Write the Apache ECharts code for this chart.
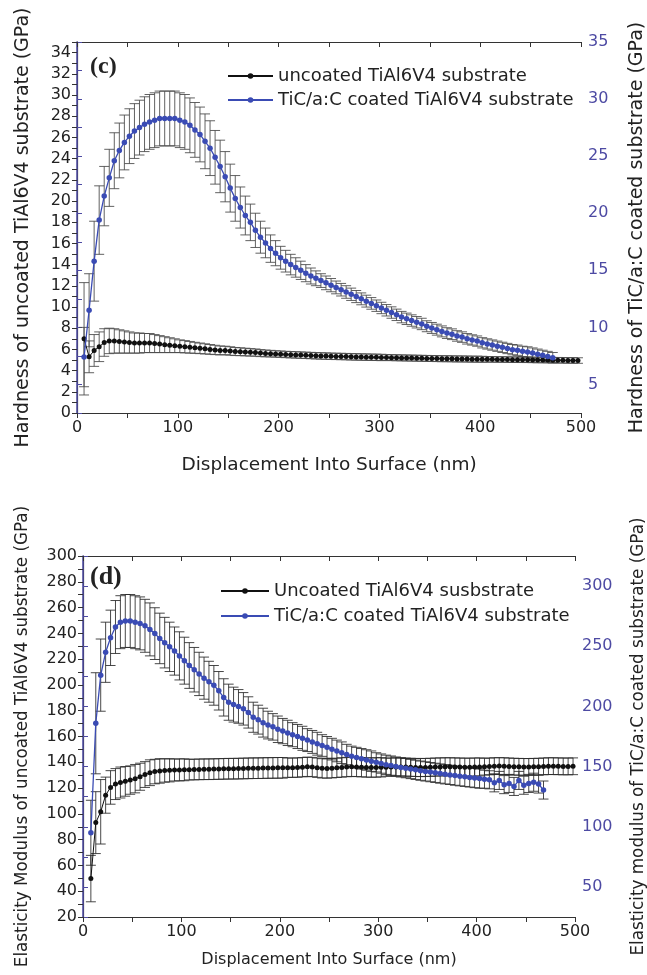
<!DOCTYPE html>
<html>
<head>
<meta charset="utf-8">
<script src="https://cdn.jsdelivr.net/npm/echarts@6/dist/echarts.min.js"></script>
<style>html,body{margin:0;padding:0;background:#fff;}#c{width:647px;height:975px;}</style>
</head>
<body>
<div id="c"></div>
<script>
// ---------- (c) Hardness ----------
var topDepth = [7,12,17,22,27,32,37,42,47,52,57,62,67,72,77,82,87,92,97,102,107,112,117,122,127,132,137,142,147,152,157,162,167,172,177,182,187,192,197,202,207,212,217,222,227,232,237,242,247,252,257,262,267,272,277,282,287,292,297,302,307,312,317,322,327,332,337,342,347,352,357,362,367,372,377,382,387,392,397,402,407,412,417,422,427,432,437,442,447,452,457,462,467,472,477,482,487,492,497];
var topUncoated = [7.0,5.3,5.9,6.25,6.65,6.8,6.8,6.75,6.7,6.65,
  6.6,6.6,6.6,6.6,6.55,6.5,6.45,6.4,6.35,6.3,
  6.25,6.2,6.15,6.1,6.05,6.0,5.95,5.9,5.9,5.85,
  5.8,5.78,5.75,5.72,5.7,5.65,5.62,5.6,5.57,5.55,
  5.52,5.5,5.48,5.46,5.44,5.42,5.4,5.38,5.37,5.35,
  5.34,5.33,5.32,5.3,5.29,5.28,5.27,5.26,5.25,5.24,
  5.23,5.22,5.21,5.2,5.19,5.18,5.17,5.16,5.15,5.14,
  5.13,5.12,5.12,5.11,5.1,5.1,5.09,5.08,5.08,5.07,
  5.06,5.06,5.05,5.05,5.04,5.03,5.03,5.02,5.02,5.01,
  5.0,5.0,4.99,4.98,4.98,4.97,4.96,4.96,4.95];
var topUncoatedErr = [5.3,1.5,1.5,1.4,1.3,1.2,1.15,1.1,1.05,1.0,
  0.95,0.95,0.9,0.9,0.85,0.8,0.75,0.7,0.65,0.6,
  0.58,0.55,0.52,0.5,0.48,0.46,0.44,0.42,0.4,0.4,
  0.38,0.37,0.36,0.35,0.34,0.33,0.32,0.31,0.3,0.3,
  0.3,0.3,0.3,0.3,0.3,0.3,0.3,0.3,0.3,0.3,
  0.3,0.3,0.3,0.3,0.3,0.3,0.3,0.3,0.3,0.3,
  0.28,0.28,0.28,0.28,0.28,0.28,0.28,0.28,0.28,0.28,
  0.28,0.28,0.28,0.28,0.28,0.28,0.28,0.28,0.28,0.28,
  0.26,0.26,0.26,0.26,0.26,0.26,0.26,0.26,0.26,0.26,
  0.26,0.26,0.26,0.26,0.26,0.26,0.26,0.26,0.26];
var topCoated = [7.4,11.5,15.8,19.4,21.5,23.1,24.6,25.5,26.2,26.75,
  27.2,27.5,27.8,28.0,28.15,28.3,28.3,28.3,28.3,28.15,
  28.0,27.7,27.3,26.9,26.3,25.7,24.9,24.1,23.2,22.2,
  21.3,20.5,19.8,19.2,18.5,17.9,17.4,16.9,16.5,16.1,
  15.8,15.5,15.25,15.0,14.75,14.5,14.3,14.1,13.9,13.7,
  13.5,13.3,13.1,12.9,12.7,12.5,12.3,12.1,11.9,11.7,
  11.5,11.3,11.1,10.9,10.75,10.6,10.45,10.3,10.1,9.95,
  9.8,9.65,9.5,9.4,9.25,9.15,9.0,8.9,8.8,8.65,
  8.55,8.45,8.35,8.25,8.15,8.05,8.0,7.9,7.85,7.75,
  7.65,7.55,7.45,7.35];
var topCoatedErr = [2.6,3.2,3.5,3.0,2.6,2.5,2.45,2.4,2.4,2.4,
  2.4,2.4,2.4,2.4,2.4,2.4,2.4,2.4,2.4,2.4,
  2.4,2.4,2.4,2.4,2.4,2.4,2.35,2.3,2.2,2.1,
  2.0,1.8,1.7,1.6,1.5,1.4,1.3,1.2,1.1,1.0,
  0.95,0.9,0.85,0.8,0.75,0.7,0.65,0.6,0.6,0.58,
  0.56,0.55,0.55,0.54,0.53,0.52,0.52,0.51,0.5,0.5,
  0.5,0.5,0.5,0.5,0.5,0.5,0.5,0.5,0.48,0.48,
  0.48,0.48,0.47,0.47,0.46,0.46,0.46,0.45,0.45,0.45,
  0.45,0.45,0.45,0.45,0.45,0.45,0.45,0.45,0.45,0.45,
  0.45,0.45,0.45,0.45];

// ---------- (d) Elasticity modulus ----------
var botDepth = [8,13,18,23,28,33,38,43,48,53,58,63,68,73,78,83,88,93,98,103,108,113,118,123,128,133,138,143,148,153,158,163,168,173,178,183,188,193,198,203,208,213,218,223,228,233,238,243,248,253,258,263,268,273,278,283,288,293,298,303,308,313,318,323,328,333,338,343,348,353,358,363,368,373,378,383,388,393,398,403,408,413,418,423,428,433,438,443,448,453,458,463,468,473,478,483,488,493,498];
var botUncoated = [49.8,93.2,101.6,114.5,120.5,123.1,124.3,125.2,126.2,127.3,
  128.8,130.5,131.9,132.8,133.3,133.6,133.8,134.0,134.1,134.2,
  134.3,134.4,134.5,134.6,134.6,134.7,134.8,134.9,135.0,135.0,
  135.1,135.2,135.3,135.4,135.4,135.5,135.6,135.6,135.7,135.7,
  135.8,135.8,135.9,136.2,136.5,136.3,135.8,135.3,135.2,135.4,
  135.7,136.0,136.3,136.5,136.4,136.2,136.0,135.9,136.0,136.1,
  136.2,136.3,136.4,136.4,136.3,136.1,136.0,135.9,136.0,136.1,
  136.3,136.4,136.5,136.5,136.4,136.3,136.2,136.2,136.3,136.4,
  136.6,136.8,137.0,137.1,137.0,136.8,136.6,136.5,136.4,136.4,
  136.5,136.6,136.8,137.0,137.0,136.9,136.8,136.8,136.9];
var botUncoatedErr = [18,24,25,14,13,12,12,11.5,11,11,
  10.5,10,10,9.5,9.5,9,9,8.5,8.5,8.5,
  8,8,8,8,8,8,8,8,8,8,
  8,8,8,8,8,8,8,8,8,8,
  7.5,7.5,7.5,7.5,7.5,7.5,7.5,7.5,7.5,7.5,
  7.5,7.5,7.5,7.5,7.5,7.5,7.5,7.5,7.5,7.5,
  7,7,7,7,7,7,7,7,7,7,
  7,7,7,7,7,7,7,7,7,7,
  6.5,6.5,6.5,6.5,6.5,6.5,6.5,6.5,6.5,6.5,
  6.5,6.5,6.5,6.5,6.5,6.5,6.5,6.5,6.5];
var botCoated = [95,186,226,245,257,266,270,271,271,270,
  269,267,264,260.5,256.5,253,249.5,246,242,238,
  234,230.5,227,223.5,220.5,217.5,213,207.5,203.5,201.5,
  200,198,195,191,189,186.5,184.5,183,181,179.5,
  178,176.5,175,173.5,172,170.5,169,167.5,166,164.5,
  163,161.5,160,158.5,157.5,156.5,155.5,154.5,153.5,152.5,
  151.5,150.8,150,149.3,148.7,148,147.3,146.6,146,145.4,
  144.8,144.2,143.6,143.1,142.5,142,141.5,141,140.5,140,
  139.5,139,136.5,138.5,135,136,133.5,138.5,134.5,136,
  137,135.5,130.5];
var botCoatedErr = [27,42,30,25,23,22,22,22,22,22,
  22,22,22,21.5,21,21,20.5,20,20,19.5,
  19,18.5,18,17.5,17,16.5,16,15.5,15,14.5,
  14,13.5,13,12.5,12,12,11.5,11,11,10.5,
  10.5,10,10,10,9.5,9.5,9.5,9,9,9,
  9,9,8.5,8.5,8.5,8.5,8.5,8.5,8,8,
  8,8,8,8,8,8,8,8,8,8,
  8,8,8,8,8,8,8,8,8,8,
  7.5,7.5,7.5,7.5,7.5,7.5,7.5,7.5,7.5,7.5,
  7.5,7.5,7.5];

// tick label values
var xLabelStep = 100;
var topLeftLabelStep = 2;
var topRightLabelStep = 5;
var botLeftLabelStep = 20;
var botRightLabelStep = 50;

var namesTop = ['uncoated TiAl6V4 substrate', 'TiC/a:C coated TiAl6V4 substrate'];
var namesBot = ['Uncoated TiAl6V4 susbstrate', 'TiC/a:C coated TiAl6V4 substrate'];

var FONT = 'DejaVu Sans';
var BLUE = '#3a4bb4';
var PURPLE = '#4d4aa3';
var AXIS = '#333';

function stepFmt(step) {
  return function (v) {
    var r = v / step;
    return Math.abs(r - Math.round(r)) < 1e-6 ? String(Math.round(v * 100) / 100) : '';
  };
}
function pts(xs, ys) { return ys.map(function (v, i) { return [xs[i], v]; }); }
function errs(xs, ys, es) { return ys.map(function (v, i) { return [xs[i], v, es[i]]; }); }

function errSeries(xi, yi, data, color) {
  return {
    type: 'custom', xAxisIndex: xi, yAxisIndex: yi, z: 1, silent: true,
    encode: { x: 0, y: 1 },
    data: data,
    renderItem: function (params, api) {
      var x = api.value(0), y = api.value(1), e = api.value(2);
      var t = api.coord([x, y + e]), b = api.coord([x, y - e]);
      var w = 5;
      var st = { stroke: color, lineWidth: 1 };
      return { type: 'group', children: [
        { type: 'line', shape: { x1: t[0], y1: t[1], x2: b[0], y2: b[1] }, style: st },
        { type: 'line', shape: { x1: t[0] - w, y1: t[1], x2: t[0] + w, y2: t[1] }, style: st },
        { type: 'line', shape: { x1: b[0] - w, y1: b[1], x2: b[0] + w, y2: b[1] }, style: st }
      ]};
    }
  };
}

function xBottom(grid, gap, fs) {
  return {
    gridIndex: grid, type: 'value', position: 'bottom', min: 0, max: 500, interval: 50,
    axisLine: { show: true, lineStyle: { color: AXIS, width: 1.2 } },
    axisTick: { show: true, inside: false, length: 5, lineStyle: { color: AXIS } },
    axisLabel: { formatter: stepFmt(xLabelStep), fontSize: 16, color: '#222', fontFamily: FONT, margin: 7 },
    splitLine: { show: false },
    name: 'Displacement Into Surface (nm)', nameLocation: 'middle', nameGap: gap,
    nameTextStyle: { fontSize: fs, color: '#222', fontFamily: FONT }
  };
}
function xTop(grid) {
  return {
    gridIndex: grid, type: 'value', position: 'top', min: 0, max: 500, interval: 50,
    axisLine: { show: true, lineStyle: { color: AXIS, width: 1.2 } },
    axisTick: { show: true, inside: true, length: 5, lineStyle: { color: AXIS } },
    axisLabel: { show: false }, splitLine: { show: false }
  };
}

var option = {
  animation: false,
  backgroundColor: '#fff',
  textStyle: { fontFamily: FONT },
  title: [
    { text: '(c)', left: 85, top: 50, textStyle: { fontFamily: 'Liberation Serif', fontWeight: 'bold', fontSize: 24, color: '#222' } },
    { text: '(d)', left: 85, top: 559, textStyle: { fontFamily: 'Liberation Serif', fontWeight: 'bold', fontSize: 26, color: '#222' } }
  ],
  legend: [
    { data: namesTop, orient: 'vertical', left: 222, top: 62, itemWidth: 45, itemHeight: 7, itemGap: 6,
      textStyle: { fontSize: 18, color: '#222', fontFamily: FONT } },
    { data: namesBot, orient: 'vertical', left: 215, top: 577, itemWidth: 48, itemHeight: 7, itemGap: 7,
      textStyle: { fontSize: 18, color: '#222', fontFamily: FONT } }
  ],
  grid: [
    { left: 77, right: 66, top: 42, height: 371, containLabel: false, outerBoundsMode: 'none' },
    { left: 83, right: 72, top: 556, height: 361, containLabel: false, outerBoundsMode: 'none' }
  ],
  xAxis: [ xBottom(0, 43, 18.5), xTop(0), xBottom(1, 35, 16), xTop(1) ],
  yAxis: [
    { gridIndex: 0, type: 'value', position: 'left', min: 0, max: 35, interval: 1,
      axisLine: { show: true, lineStyle: { color: AXIS, width: 1.2 } },
      axisTick: { show: true, length: 5, lineStyle: { color: AXIS } },
      axisLabel: { formatter: stepFmt(topLeftLabelStep), fontSize: 16, color: '#222', margin: 6 },
      splitLine: { show: false },
      name: 'Hardness of uncoated TiAl6V4 substrate (GPa)', nameLocation: 'middle', nameRotate: 90, nameGap: 44,
      nameTextStyle: { fontSize: 19, color: '#222' } },
    { gridIndex: 0, type: 'value', position: 'right', min: 2.5, max: 35, interval: 2.5,
      axisLine: { show: true, lineStyle: { color: PURPLE, width: 1.5 } },
      axisTick: { show: true, length: 5, lineStyle: { color: PURPLE } },
      axisLabel: { formatter: stepFmt(topRightLabelStep), fontSize: 16, color: PURPLE, margin: 7 },
      splitLine: { show: false },
      name: 'Hardness of TiC/a:C coated substrate (GPa)', nameLocation: 'middle', nameRotate: 90, nameGap: 47,
      nameTextStyle: { fontSize: 19, color: '#222' } },
    { gridIndex: 1, type: 'value', position: 'left', min: 20, max: 300, interval: 10,
      axisLine: { show: true, lineStyle: { color: AXIS, width: 1.2 } },
      axisTick: { show: true, length: 5, lineStyle: { color: AXIS } },
      axisLabel: { formatter: stepFmt(botLeftLabelStep), fontSize: 16, color: '#222', margin: 6 },
      splitLine: { show: false },
      name: 'Elasticity Modulus of uncoated TiAl6V4 substrate (GPa)', nameLocation: 'middle', nameRotate: 90, nameGap: 52,
      nameTextStyle: { fontSize: 16.8, color: '#222' } },
    { gridIndex: 1, type: 'value', position: 'right', min: 25, max: 325, interval: 25,
      axisLine: { show: true, lineStyle: { color: PURPLE, width: 1.5 } },
      axisTick: { show: true, length: 5, lineStyle: { color: PURPLE } },
      axisLabel: { formatter: stepFmt(botRightLabelStep), fontSize: 16, color: PURPLE, margin: 7 },
      splitLine: { show: false },
      name: 'Elasticity modulus of TiC/a:C coated substrate (GPa)', nameLocation: 'middle', nameRotate: 90, nameGap: 55,
      nameTextStyle: { fontSize: 16.8, color: '#222' } }
  ],
  series: [
    errSeries(0, 0, errs(topDepth, topUncoated, topUncoatedErr), 'rgba(70,70,70,0.85)'),
    errSeries(0, 1, errs(topDepth, topCoated, topCoatedErr), 'rgba(70,70,70,0.85)'),
    errSeries(2, 2, errs(botDepth, botUncoated, botUncoatedErr), 'rgba(40,40,40,0.85)'),
    errSeries(2, 3, errs(botDepth, botCoated, botCoatedErr), 'rgba(40,40,40,0.85)'),
    { name: namesTop[0], type: 'line', xAxisIndex: 0, yAxisIndex: 0, z: 3, data: pts(topDepth, topUncoated),
      symbol: 'circle', symbolSize: 5, showSymbol: true, itemStyle: { color: '#111' }, lineStyle: { color: '#111', width: 1 } },
    { name: namesTop[1], type: 'line', xAxisIndex: 0, yAxisIndex: 1, z: 4, data: pts(topDepth, topCoated),
      symbol: 'circle', symbolSize: 5.5, showSymbol: true, itemStyle: { color: BLUE }, lineStyle: { color: BLUE, width: 1.3 } },
    { name: namesBot[0], type: 'line', xAxisIndex: 2, yAxisIndex: 2, z: 3, data: pts(botDepth, botUncoated),
      symbol: 'circle', symbolSize: 5, showSymbol: true, itemStyle: { color: '#111' }, lineStyle: { color: '#111', width: 1 } },
    { name: namesBot[1], type: 'line', xAxisIndex: 2, yAxisIndex: 3, z: 4, data: pts(botDepth, botCoated),
      symbol: 'circle', symbolSize: 5.5, showSymbol: true, itemStyle: { color: BLUE }, lineStyle: { color: BLUE, width: 1.3 } }
  ]
};
var chart = echarts.init(document.getElementById('c'), null, { renderer: 'canvas' });
chart.setOption(option);
</script>
</body>
</html>
